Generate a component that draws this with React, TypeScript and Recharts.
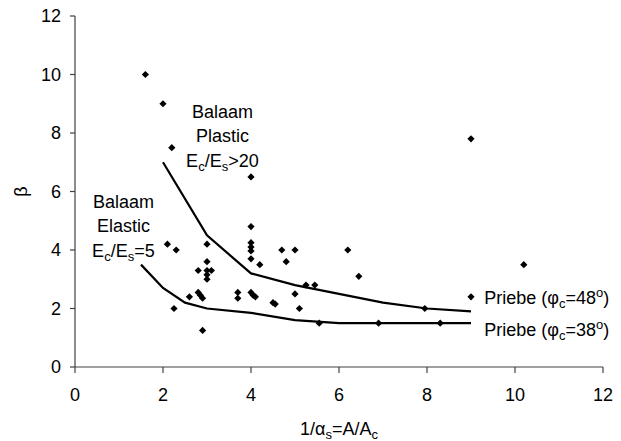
import React from 'react';
import { ScatterChart, Scatter, XAxis, YAxis, ReferenceDot } from 'recharts';

const xTicks = [0, 2, 4, 6, 8, 10, 12];
const yTicks = [0, 2, 4, 6, 8, 10, 12];

const measuredX = [1.6, 2, 2.2, 4, 9, 2.1, 2.3, 2.25, 2.6, 2.8, 2.8, 2.85, 2.9, 2.9, 3, 3, 3, 3.1, 3, 3, 3.7, 3.7, 4, 4, 4, 4, 4, 4.2, 4, 4.05, 4.1, 4.5, 4.55, 4.7, 4.8, 5, 5, 5.1, 5.25, 5.45, 5.55, 6.2, 6.45, 6.9, 7.95, 8.3, 9, 10.2];
const measuredY = [10, 9, 7.5, 6.5, 7.8, 4.2, 4.0, 2.0, 2.4, 3.3, 2.55, 2.45, 2.35, 1.25, 4.2, 3.6, 3.3, 3.3, 3.15, 3.0, 2.55, 2.35, 4.8, 4.25, 4.1, 3.97, 3.7, 3.5, 2.55, 2.45, 2.4, 2.2, 2.15, 4.0, 3.6, 4.0, 2.5, 2.0, 2.8, 2.8, 1.5, 4.0, 3.1, 1.5, 2.0, 1.5, 2.4, 3.5];

const upperX = [2, 3, 4, 5, 6, 7, 8, 9];
const upperY = [7, 4.5, 3.2, 2.8, 2.5, 2.2, 2.0, 1.9];
const lowerX = [1.5, 2, 2.5, 3, 4, 5, 6, 7, 8, 9];
const lowerY = [3.5, 2.7, 2.2, 2.0, 1.85, 1.6, 1.5, 1.5, 1.5, 1.5];

const priebeAngles = ['48', '38'];

const measured = measuredX.map((x, i) => ({ x, y: measuredY[i] }));
const upper = upperX.map((x, i) => ({ x, y: upperY[i] }));
const lower = lowerX.map((x, i) => ({ x, y: lowerY[i] }));

const FONT = '"Liberation Sans", Arial, sans-serif';
const FS = 18;
const SUB = 13;

const Diamond = (props: any) => {
  const { cx, cy } = props;
  if (cx == null || cy == null) return null;
  const s = 3.6;
  return <polygon points={`${cx},${cy - s} ${cx + s},${cy} ${cx},${cy + s} ${cx - s},${cy}`} fill="#000" />;
};

const NoShape = () => null;

const BalaamLabel = (props: any) => {
  const { viewBox, kind } = props;
  const x = viewBox.x;
  const y = viewBox.y;
  return (
    <text x={x} y={y} textAnchor="middle" fontFamily={FONT} fontSize={FS} fill="#000">
      <tspan x={x} y={y}>Balaam</tspan>
      <tspan x={x} y={y + 24}>{kind}</tspan>
      <tspan x={x} y={y + 49}>
        E<tspan fontSize={SUB} dy={4}>c</tspan>
        <tspan dy={-4}>/E</tspan>
        <tspan fontSize={SUB} dy={4}>s</tspan>
        <tspan dy={-4}>{kind === 'Plastic' ? '>20' : '=5'}</tspan>
      </tspan>
    </text>
  );
};

const PriebeLabel = (props: any) => {
  const { viewBox, phi } = props;
  const x = viewBox.x;
  const y = viewBox.y;
  return (
    <text x={x} y={y} textAnchor="start" fontFamily={FONT} fontSize={FS} fill="#000">
      Priebe (φ
      <tspan fontSize={SUB} dy={4}>c</tspan>
      <tspan dy={-4}>={phi}</tspan>
      <tspan fontSize={SUB} dy={-7}>o</tspan>
      <tspan dy={7}>)</tspan>
    </text>
  );
};

const YTitle = (props: any) => {
  const { viewBox } = props;
  const cx = viewBox.x + 21;
  const cy = viewBox.y + viewBox.height / 2;
  return (
    <text x={cx} y={cy} textAnchor="middle" dominantBaseline="central" fontFamily={FONT} fontSize={FS} fill="#000" transform={`rotate(-90 ${cx} ${cy})`}>
      β
    </text>
  );
};

const XTitle = (props: any) => {
  const { viewBox } = props;
  const cx = viewBox.x + viewBox.width / 2;
  const by = viewBox.y + 68;
  return (
    <text x={cx} y={by} textAnchor="middle" fontFamily={FONT} fontSize={FS} fill="#000">
      1/α
      <tspan fontSize={SUB} dy={4}>s</tspan>
      <tspan dy={-4}>=A/A</tspan>
      <tspan fontSize={SUB} dy={4}>c</tspan>
    </text>
  );
};

export default function App() {
  return (
    <div style={{ position: 'absolute', left: 0, top: 0, background: '#fff' }}>
      <ScatterChart width={621} height={441} margin={{ top: 16, right: 18, left: 0, bottom: 0 }}>
        <XAxis
          type="number"
          dataKey="x"
          domain={[0, 12]}
          ticks={xTicks}
          height={74}
          tickSize={6}
          tickMargin={15}
          axisLine={{ stroke: '#404040', strokeWidth: 1.2 }}
          tickLine={{ stroke: '#404040', strokeWidth: 1.2 }}
          tick={{ fill: '#000', fontSize: FS, fontFamily: FONT }}
          label={<XTitle />}
          allowDataOverflow
        />
        <YAxis
          type="number"
          dataKey="y"
          domain={[0, 12]}
          ticks={yTicks}
          width={75}
          tickSize={5}
          tickMargin={9}
          axisLine={{ stroke: '#404040', strokeWidth: 1.2 }}
          tickLine={{ stroke: '#404040', strokeWidth: 1.2 }}
          tick={{ fill: '#000', fontSize: FS, fontFamily: FONT }}
          label={<YTitle />}
          allowDataOverflow
        />
        <Scatter data={upper} line={{ stroke: '#000', strokeWidth: 2.2 }} lineType="joint" shape={NoShape} isAnimationActive={false} />
        <Scatter data={lower} line={{ stroke: '#000', strokeWidth: 2.2 }} lineType="joint" shape={NoShape} isAnimationActive={false} />
        <Scatter data={measured} shape={Diamond} isAnimationActive={false} />
        <ReferenceDot x={3.35} y={8.5} r={0} fill="none" stroke="none" label={<BalaamLabel kind="Plastic" />} />
        <ReferenceDot x={1.1} y={5.45} r={0} fill="none" stroke="none" label={<BalaamLabel kind="Elastic" />} />
        <ReferenceDot x={9.3} y={2.15} r={0} fill="none" stroke="none" label={<PriebeLabel phi={priebeAngles[0]} />} />
        <ReferenceDot x={9.3} y={1.06} r={0} fill="none" stroke="none" label={<PriebeLabel phi={priebeAngles[1]} />} />
      </ScatterChart>
    </div>
  );
}
